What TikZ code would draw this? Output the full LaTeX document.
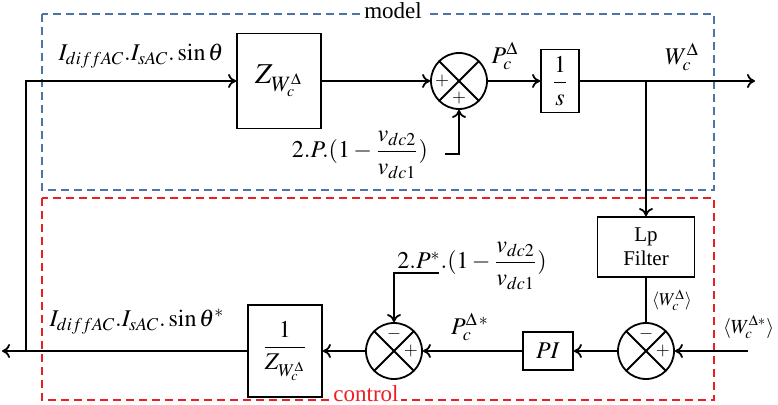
\documentclass[tikz,border=0pt]{standalone}
\usepackage{amsmath}
\usepackage{mathptmx}
\usepackage{fontspec}
\setmainfont{Liberation Serif}
\usetikzlibrary{positioning,arrows.meta}
\definecolor{mdlblue}{RGB}{74,116,170}
\definecolor{ctlred}{RGB}{235,30,36}

\tikzset{
  >={To[length=4pt,width=7pt]},
  block/.style={draw,rectangle,inner sep=2pt,font=\large},
  sumc/.style={draw,circle,minimum size=28pt,inner sep=0pt,
    path picture={\draw (path picture bounding box.north west) -- (path picture bounding box.south east)
      (path picture bounding box.north east) -- (path picture bounding box.south west);}},
  sgn/.style={font=\small,inner sep=0pt},
  lbl/.style={font=\large,inner sep=1pt},
  frame/.style={dash pattern=on 4pt off 2.5pt,line width=1pt}
}

\begin{document}
\begin{tikzpicture}[x=0.5pt,y=-0.5pt,line width=0.9pt]
\useasboundingbox (0,0) rectangle (778,405);

% model / control frames
\draw[frame,mdlblue] (42,14) rectangle (714,190);
\node[fill=white,inner sep=2pt,font=\fontsize{11.5}{13}\selectfont] (mdl) at (393,11) {model};
\draw[frame,ctlred] (42,198) rectangle (714,400);
\node[fill=white,inner sep=1pt,text=ctlred,font=\fontsize{11.5}{13}\selectfont,anchor=south] (ctl) at (366,405) {control};

% model path
\node[block,minimum width=42pt,minimum height=47.5pt,font=\Large] (zbox) at (279,81) {$Z_{W_c^\Delta}$};
\node[sumc] (sum1) at (459,81) {};
\node[block,minimum width=19pt,minimum height=31.5pt,inner sep=1pt] (intg) at (560,81) {$\dfrac{1}{s}$};

% control path
\node[block,minimum width=48.5pt,minimum height=30pt,align=center,font=\fontsize{10.5}{12}\selectfont] (lpf) at (646,247) {Lp\\Filter};
\node[sumc] (sum2) at (646,351) {};
\node[block,minimum width=25pt,minimum height=19pt] (pi) at (548,351) {$PI$};
\node[sumc] (sum3) at (394,351) {};
\node[block,minimum width=37pt,minimum height=46pt] (inv) at (285,351) {$\dfrac{1}{Z_{W_c^\Delta}}$};

% signs
\node[sgn] at ([xshift=6pt]sum1.west) {$+$};
\node[sgn] at ([yshift=6pt]sum1.south) {$+$};
\node[sgn] at ([yshift=-6pt]sum2.north) {$-$};
\node[sgn] at ([xshift=-6pt]sum2.east) {$+$};
\node[sgn] at ([yshift=-6pt]sum3.north) {$-$};
\node[sgn] at ([xshift=-6pt]sum3.east) {$+$};

\coordinate (jn) at (26,351);
\coordinate (outl) at (2,351);
\coordinate (outr) at (755,81);
\coordinate (br) at (lpf.north |- intg.east);
\coordinate (pin) at (445,154);
\coordinate (pst) at (439,273);
\coordinate (wref) at (748,351);

\draw[->] (jn) |- (zbox.west);
\draw[->] (zbox) -- (sum1);
\draw[->] (sum1) -- (intg);
\draw[->] (intg.east) -- (outr);
\draw[->] (br) -- (lpf.north);
\draw[->] (pin) -| (sum1.south);
\draw (lpf.south) -- (sum2.north);
\draw[->] (wref) -- (sum2.east);
\draw[->] (sum2) -- (pi);
\draw[->] (pi) -- (sum3);
\draw[->] (pst) -| (sum3.north);
\draw[->] (sum3) -- (inv);
\draw[->] (inv.west) -- (outl);

% labels
\node[lbl] (iin) at (141,56) {$I_{diffAC}.I_{sAC}.\sin\theta$};
\node[lbl] (pc) at (505,56) {$P_c^\Delta$};
\node[lbl] (wc) at (682,57) {$W_c^\Delta$};
\node[lbl] (pterm) at (360,155) {$2.P.(1-\dfrac{v_{dc2}}{v_{dc1}})$};
\node[lbl] (psterm) at (472,266) {$2.P^{*}.(1-\dfrac{v_{dc2}}{v_{dc1}})$};
\node[font=\small,inner sep=1pt] (wavg) at (672,300) {$\langle W_c^\Delta\rangle$};
\node[inner sep=1pt,anchor=east] (wavgref) at (777,327) {$\langle W_c^{\Delta *}\rangle$};
\node[lbl] (pcs) at (470,327) {$P_c^{\Delta\,*}$};
\node[lbl] (iout) at (137,322) {$I_{diffAC}.I_{sAC}.\sin\theta^{*}$};
\end{tikzpicture}
\end{document}
